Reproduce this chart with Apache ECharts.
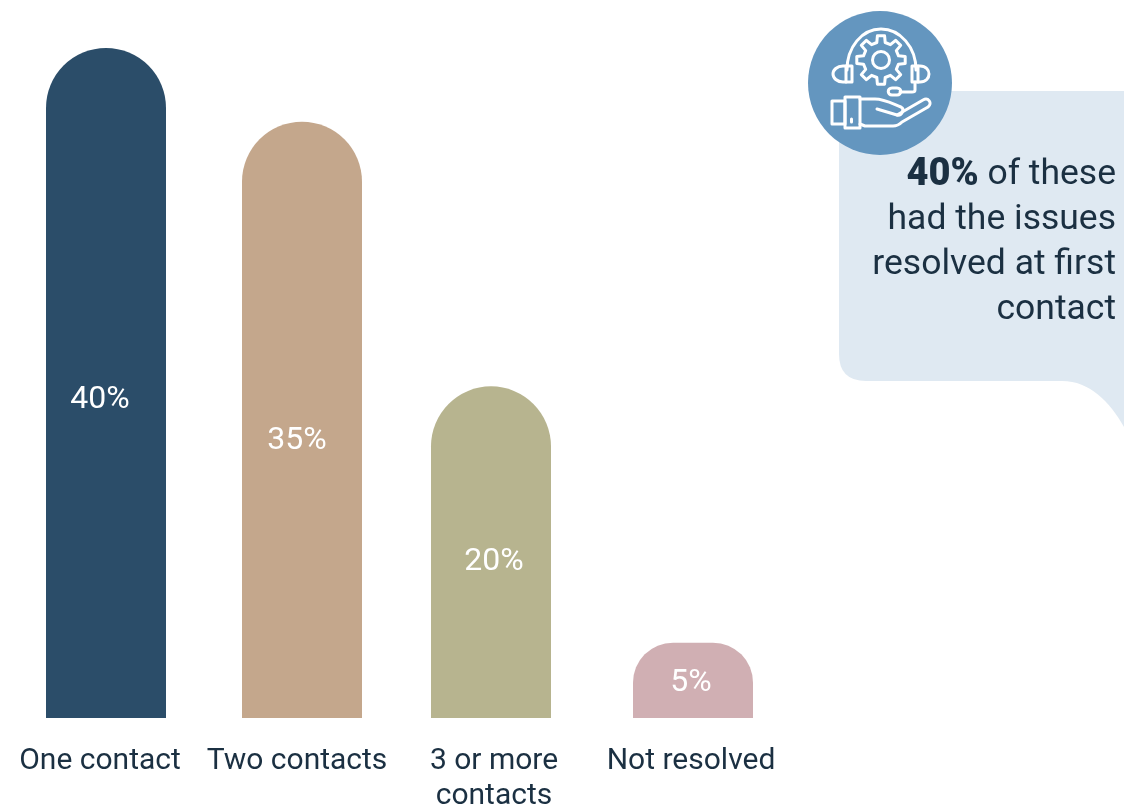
<!DOCTYPE html>
<html><head><meta charset="utf-8">
<style>html,body{margin:0;padding:0;background:#fff}#c{width:1124px;height:807px}</style>
<script src="https://cdn.jsdelivr.net/npm/echarts@6/dist/echarts.min.js"></script>
</head><body><div id="c"></div>
<script>
// Data
const categories = ['One contact', 'Two contacts', '3 or more\ncontacts', 'Not resolved'];
const printedPercent = [40, 35, 20, 5];
const drawnHeights = [40, 35.6, 19.8, 4.5];
// Styling
const barColors = ['#2B4D69', '#C4A78C', '#B7B48F', '#D0AFB3'];
const barNudgePx = [6, 5, -3, 2];
const barRadiusPx = [60, 60, 60, 40];
const labelCentreValue = [19.0, 16.55, 9.33, 2.1];
const FONT = 'Roboto';
const INK = '#1B3042';

function gearPath(cx, cy, rOut, rIn, teeth) {
  const step = Math.PI * 2 / teeth;
  let d = '';
  for (let i = 0; i < teeth; i++) {
    const a = i * step - Math.PI / 2;
    const pts = [
      [rIn, a - step * 0.30], [rOut, a - step * 0.19], [rOut, a + step * 0.19], [rIn, a + step * 0.30]
    ];
    pts.forEach((p, j) => {
      const x = (cx + p[0] * Math.cos(p[1])).toFixed(1), y = (cy + p[0] * Math.sin(p[1])).toFixed(1);
      d += ((i === 0 && j === 0) ? 'M' : 'L') + x + ' ' + y + ' ';
    });
  }
  return d + 'Z';
}
const iconStroke = { stroke: '#fff', lineWidth: 3, fill: 'none', lineJoin: 'round', lineCap: 'round' };
const iconPaths = [
  gearPath(881, 60, 24.5, 18, 8),
  'M847 70 C847 47 862 29 881 29 C900 29 916 47 916 70',
  'M852 66 L852 82 L843 82 C837 82 833 78 833 74 C833 70 837 66 843 66 Z',
  'M846 66 L846 82',
  'M912 66 L912 82 L920 82 C926 82 929 78 929 74 C929 70 926 66 920 66 Z',
  'M918 66 L918 82',
  'M915 82 L915 90 Q915 92 912 92 L900 92',
  'M892 88 L897 88 C902 88 902 95 897 95 L892 95 C887 95 887 88 892 88 Z',
  'M832 101 L845 101 L845 124 L832 124 Z',
  'M845 97 L860 97 L860 128 L845 128 Z',
  'M860 99 L875 99 C885 99 895 105 901 107 C905 109 902 116 897 115 L877 109',
  'M897 115 L923 100 C928 97 933 103 928 107 L902 122 Q898 126 893 126 L865 126 L860 124',
  'M851.5 119 L851.5 122'
];
const calloutLines = [[175, '{b|40%} of these'], [220, 'had the issues'], [265, 'resolved at first'], [310, 'contact']];

const chart = echarts.init(document.getElementById('c'), null, { renderer: 'canvas' });
chart.setOption({
  animation: false,
  backgroundColor: '#fff',
  grid: { left: 1.5, width: 788, top: 48, height: 670, containLabel: false, outerBoundsMode: 'none' },
  xAxis: {
    type: 'category', data: categories,
    axisLine: { show: false }, axisTick: { show: false },
    axisLabel: { interval: 0, color: INK, fontFamily: FONT, fontSize: 30, lineHeight: 35, margin: 26, verticalAlign: 'top' }
  },
  yAxis: { type: 'value', min: 0, max: 40, show: false },
  series: [{
    type: 'custom',
    data: drawnHeights.map((h, i) => [i, h]),
    encode: { x: 0, y: 1 },
    renderItem(params, api) {
      const i = api.value(0), top = api.coord([i, api.value(1)]), base = api.coord([i, 0]);
      const w = 120, x = top[0] + barNudgePx[i] - w / 2, r = barRadiusPx[i];
      const labelPt = api.coord([i, labelCentreValue[i]]);
      return {
        type: 'group',
        children: [
          { type: 'rect', shape: { x, y: top[1], width: w, height: base[1] - top[1], r: [r, r, 0, 0] }, style: { fill: barColors[i] } },
          { type: 'text', x: labelPt[0], y: labelPt[1], style: { text: printedPercent[i] + '%', fill: '#fff', font: '400 32px ' + FONT, align: 'center', verticalAlign: 'middle' } }
        ]
      };
    }
  }, {
    type: 'custom',
    coordinateSystem: 'none',
    silent: true,
    z: 10,
    data: [0],
    renderItem() {
      return {
        type: 'group',
        children: [
          { type: 'path', shape: { pathData: 'M839 91 L1124 91 L1124 427 C1110 402 1090 381 1062 381 L866 381 Q839 381 839 354 Z' }, style: { fill: '#DFE9F2' } },
          { type: 'circle', shape: { cx: 880, cy: 83, r: 72 }, style: { fill: '#6496BF' } },
          ...iconPaths.map(d => ({ type: 'path', shape: { pathData: d }, style: iconStroke })),
          { type: 'circle', shape: { cx: 881, cy: 60, r: 8.5 }, style: iconStroke },
          ...calloutLines.map(([y, t]) => ({
            type: 'text', x: 1116, y,
            style: { text: t, fill: INK, font: '35.5px ' + FONT, align: 'right', verticalAlign: 'middle',
              rich: { b: { font: '900 38px ' + FONT, fill: INK } } }
          }))
        ]
      };
    }
  }]
});
</script></body></html>
